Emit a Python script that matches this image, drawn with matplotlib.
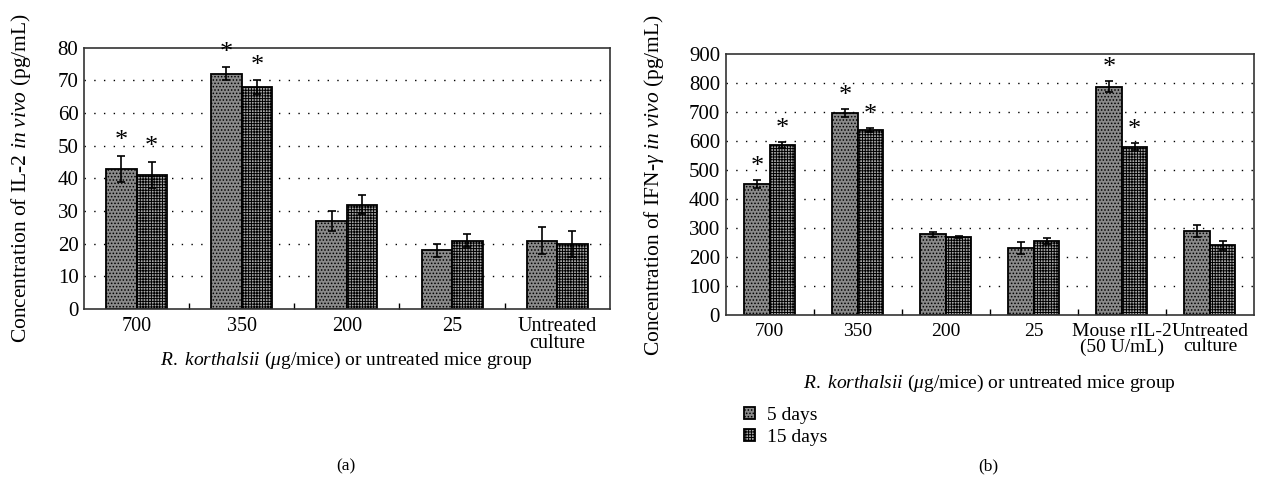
import matplotlib
matplotlib.use("Agg")
import matplotlib.pyplot as plt
import numpy as np

plt.rcParams['font.family'] = ['Liberation Serif', 'DejaVu Serif']
plt.rcParams['mathtext.fontset'] = 'custom'
plt.rcParams['mathtext.rm'] = 'Liberation Serif'
plt.rcParams['mathtext.it'] = 'Liberation Serif:italic'
plt.rcParams['hatch.linewidth'] = 0.7

# Panel (a) data: IL-2
cats_a = ["700", "350", "200", "25", "Untreated\nculture"]
il2_5d = [43, 72, 27, 18, 21]
il2_5d_err = [4, 2, 3, 2, 4]
il2_15d = [41, 68, 32, 21, 20]
il2_15d_err = [4, 2, 3, 2, 4]
il2_star_5d = [True, True, False, False, False]
il2_star_15d = [True, True, False, False, False]

# Panel (b) data: IFN-gamma
cats_b = ["700", "350", "200", "25", "Mouse rIL-2\n(50 U/mL)", "Untreated\nculture"]
ifn_5d = [452, 697, 278, 232, 788, 290]
ifn_5d_err = [15, 15, 8, 20, 18, 22]
ifn_15d = [588, 638, 270, 256, 580, 240]
ifn_15d_err = [10, 8, 3, 10, 12, 15]
ifn_star_5d = [True, True, False, False, True, False]
ifn_star_15d = [True, True, False, False, True, False]

series_labels = ["5 days", "15 days"]

fig = plt.figure(figsize=(12.73, 4.93), dpi=100)
ax_a = fig.add_axes([0.066, 0.373, 0.413, 0.530])
ax_b = fig.add_axes([0.570, 0.361, 0.415, 0.529])

w = 0.29
fc5, h5 = '#8a8a8a', '.....'
fc15, h15 = '#a8a8a8', '++++++'


def draw(ax, cats, v5, e5, v15, e15, s5, s15, ymax, ystep, ylabel, star_off, xfs):
    x = np.arange(len(cats))
    b1 = ax.bar(x - w / 2, v5, w, color=fc5, hatch=h5, edgecolor='black', linewidth=1.3, zorder=2)
    b2 = ax.bar(x + w / 2, v15, w, color=fc15, hatch=h15, edgecolor='black', linewidth=1.3, zorder=2)
    ax.errorbar(x - w / 2, v5, yerr=e5, fmt='none', ecolor='black', elinewidth=1.2, capsize=3, capthick=1.2, zorder=3)
    ax.errorbar(x + w / 2, v15, yerr=e15, fmt='none', ecolor='black', elinewidth=1.2, capsize=3, capthick=1.2, zorder=3)
    for i in range(len(cats)):
        if s5[i]:
            ax.text(x[i] - w / 2, v5[i] + e5[i] + star_off, '*', ha='center', va='center', fontsize=19)
        if s15[i]:
            ax.text(x[i] + w / 2, v15[i] + e15[i] + star_off, '*', ha='center', va='center', fontsize=19)
    ax.set_xlim(-0.5, len(cats) - 0.5)
    ax.set_ylim(0, ymax)
    ax.set_yticks(np.arange(0, ymax + 1, ystep))
    ax.set_xticks(x)
    ax.set_xticklabels(cats, fontsize=xfs, linespacing=0.85)
    ax.set_xticks(np.arange(0.5, len(cats) - 0.5, 1), minor=True)
    ax.tick_params(axis='x', which='major', length=0, pad=6)
    ax.tick_params(axis='x', which='minor', length=4, direction='in', width=1)
    ax.tick_params(axis='y', labelsize=15, length=0, pad=4)
    for yv in np.arange(ystep, ymax, ystep):
        ax.axhline(yv, color='black', linestyle=(0, (1, 6)), linewidth=1.0, zorder=1)
    for s in ax.spines.values():
        s.set_linewidth(1.2)
        s.set_color('#333333')
    ax.set_ylabel(ylabel, fontsize=15.5)
    ax.set_xlabel(r"$\mathit{R.\ korthalsii}$ ($\mathit{\mu}$g/mice) or untreated mice group",
                  fontsize=14)
    return b1, b2


draw(ax_a, cats_a, il2_5d, il2_5d_err, il2_15d, il2_15d_err, il2_star_5d, il2_star_15d,
     80, 10, r"Concentration of IL-2 $\mathit{in\ vivo}$ (pg/mL)", 4.5, 14.5)
b1, b2 = draw(ax_b, cats_b, ifn_5d, ifn_5d_err, ifn_15d, ifn_15d_err, ifn_star_5d, ifn_star_15d,
              900, 100, r"Concentration of IFN-$\mathit{\gamma}$ $\mathit{in\ vivo}$ (pg/mL)", 45, 14)

ax_a.yaxis.set_label_coords(-0.097, 0.5)
ax_b.yaxis.set_label_coords(-0.112, 0.5)
ax_a.xaxis.set_label_coords(0.5, -0.155)
ax_b.xaxis.set_label_coords(0.5, -0.22)

fig.legend([b1, b2], series_labels, loc='upper left', bbox_to_anchor=(0.578, 0.19),
           frameon=False, fontsize=14, handlelength=0.6, handleheight=0.6,
           handletextpad=0.6, labelspacing=0.25, borderaxespad=0)

fig.text(0.272, 0.045, "(a)", ha='center', fontsize=12.5)
fig.text(0.776, 0.045, "(b)", ha='center', fontsize=12.5)

fig.savefig("out.png", dpi=100)
